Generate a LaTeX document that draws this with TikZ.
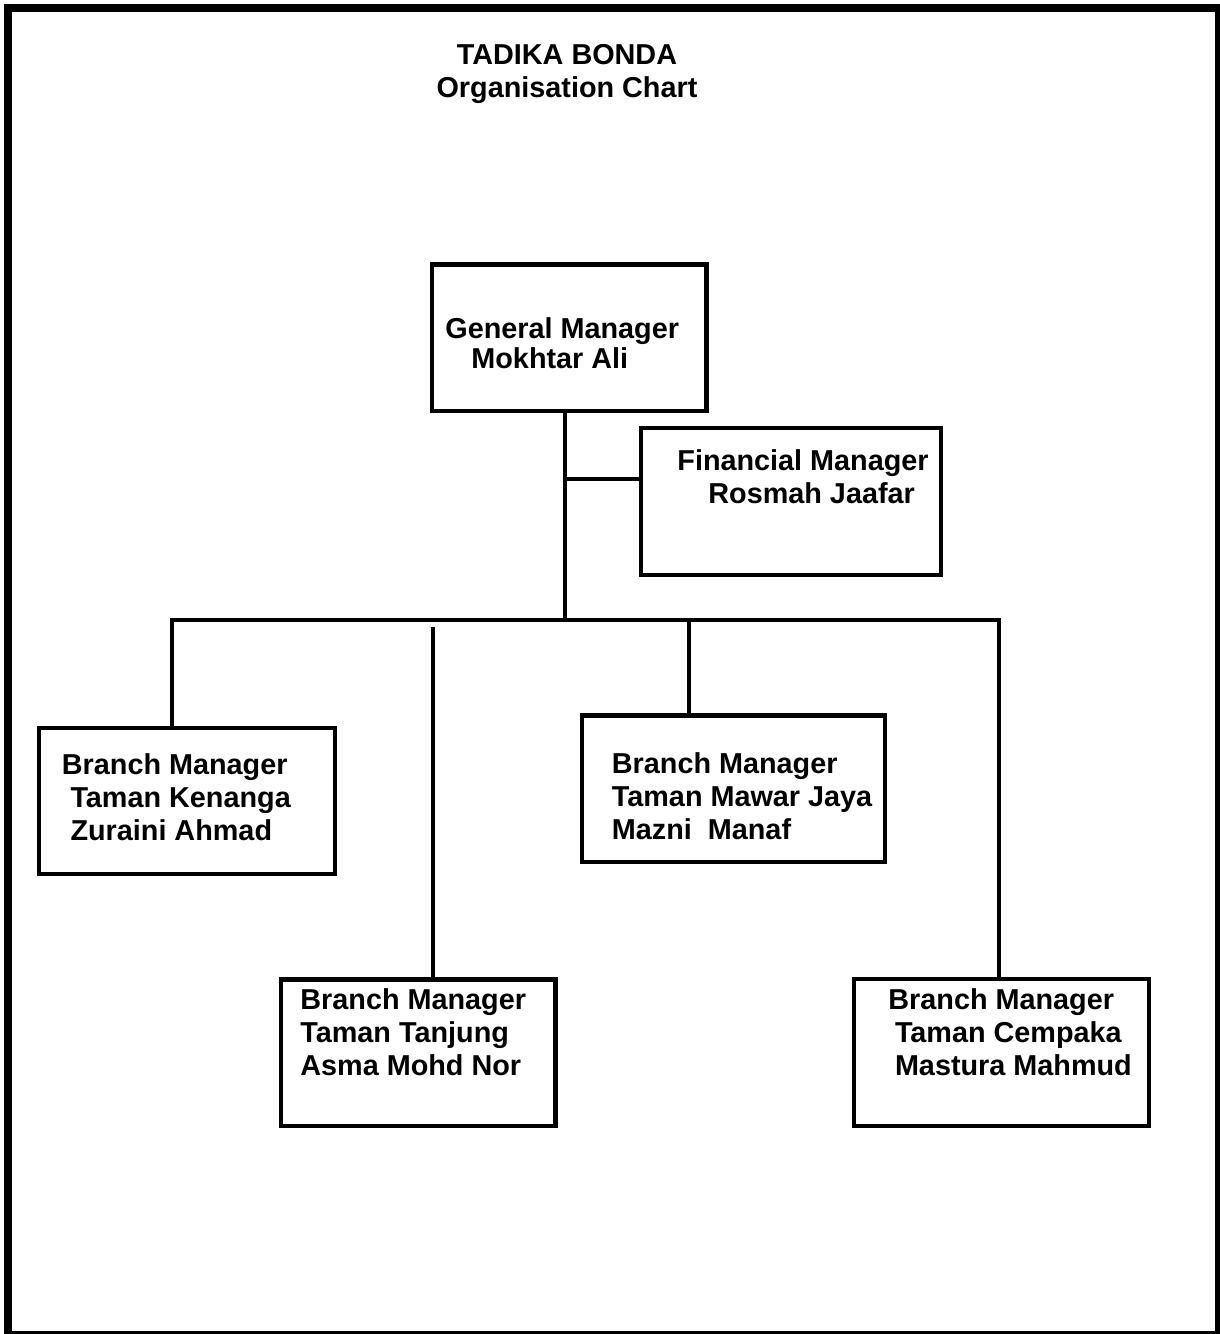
\documentclass[tikz,border=0pt]{standalone}
\usepackage{fontspec}
\setmainfont{Liberation Sans}
\usetikzlibrary{positioning,fit}

\begin{document}
\begin{tikzpicture}[
  x=0.5pt, y=-0.5pt,
  font=\fontsize{14.4}{16.5}\selectfont\bfseries,
  box/.style={rectangle, draw=black, line width=2.4pt, inner sep=0pt},
  txt/.style={align=left, inner sep=0pt, anchor=north west},
  link/.style={draw=black, line width=2.3pt},
  frame/.style={draw=black, line width=4pt}
]
\useasboundingbox (0,0) rectangle (1220,1334);
\draw[frame] (8,8) rectangle (1219,1335);

\node[align=center, inner sep=0pt, anchor=north] (title) at (567,43.5)
  {TADIKA BONDA\\Organisation Chart};

%% boxes
\node[box, fit={(432,264.5) (706.5,411)}] (GM) {};
\node[box, fit={(641,428) (941,575)}] (FM) {};
\node[box, fit={(39,728) (335,874)}] (BK) {};
\node[box, fit={(582,715.5) (885,862)}] (BM) {};
\node[box, fit={(281,979.5) (555.5,1126)}] (BT) {};
\node[box, fit={(854,979) (1149,1126)}] (BC) {};

%% texts
\node[txt] (GMt) at (445,317.5)
  {General Manager\\[-1.5pt]\hspace*{13pt}Mokhtar Ali};
\node[txt] (FMt) at (677,449.2)
  {Financial Manager\\\hspace*{15.5pt}Rosmah Jaafar};
\node[txt] (BKt) at (61.5,752.8)
  {Branch Manager\\\hspace*{4.3pt}Taman Kenanga\\\hspace*{4.3pt}Zuraini Ahmad};
\node[txt] (BMt) at (611.5,751.8)
  {Branch Manager\\Taman Mawar Jaya\\Mazni\ \ Manaf};
\node[txt] (BTt) at (300,988.5)
  {Branch Manager\\Taman Tanjung\\Asma Mohd Nor};
\node[txt] (BCt) at (888,988.5)
  {Branch Manager\\\hspace*{3.3pt}Taman Cempaka\\\hspace*{3.3pt}Mastura Mahmud};

%% connectors
\coordinate (T) at (565,620);
\coordinate (Tf) at (565,479);
\coordinate (L) at (172,620);
\coordinate (R) at (999,620);
\coordinate (Tj) at (433,627);
\coordinate (Mj) at (689,620);

\draw[link] (GM.south -| T) -- (T);
\draw[link] (Tf) -- (Tf -| FM.west);
\draw[link] (L |- BK.north) -- (L) -- (R) -- (R |- BC.north);
\draw[link] (Tj) -- (Tj |- BT.north);
\draw[link] (Mj) -- (Mj |- BM.north);

\end{tikzpicture}
\end{document}
